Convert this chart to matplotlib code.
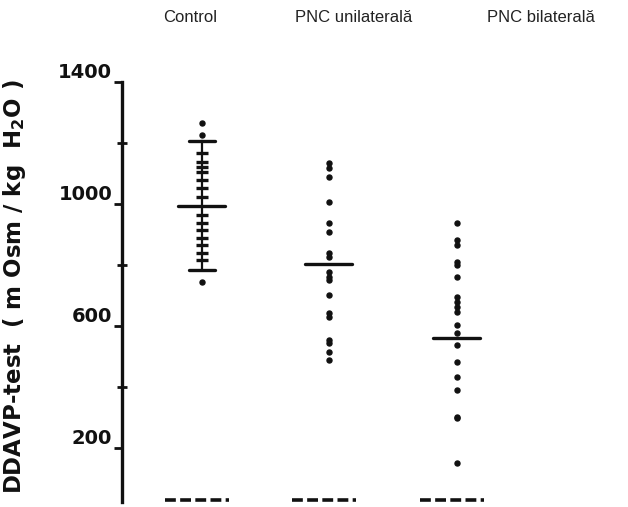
import matplotlib
matplotlib.use("Agg")
import matplotlib.pyplot as plt

groups = ["Control", "PNC unilaterală", "PNC bilaterală"]
control_dash_vals = [1168, 1138, 1122, 1105, 1079, 1053, 1024, 965,
                     938, 915, 889, 866, 840, 817]
control_dot_vals = [1266, 1227, 745]
unilat_vals = [1135, 1119, 1089, 1007, 938, 909, 840, 827, 778, 761, 752,
               702, 643, 630, 555, 545, 516, 490]
bilat_vals = [938, 883, 866, 811, 801, 761, 696, 680, 663, 647, 604, 578,
              539, 483, 434, 391, 303, 300, 152]
means = [995, 804, 562]
control_sd = 212
baseline_value = 30
yticks_major = [200, 600, 1000, 1400]
yticks_minor = [400, 800, 1200]
ylabel = r"DDAVP-test  ( m Osm / kg  H$_\mathbf{2}$O )"

W, H = 628, 507
fig = plt.figure(figsize=(W / 100, H / 100), dpi=100)
ax_left, ax_right = 122, 628
ax_top, ax_bot = 82, 501.7
ax = fig.add_axes([ax_left / W, 1 - ax_bot / H, (ax_right - ax_left) / W, (ax_bot - ax_top) / H])
ax.set_xlim(-0.627, 3.341)
ax.set_ylim(25, 1400)

ink = "#111111"
xs = [0, 1, 2]

# points
ax.plot([xs[0]] * len(control_dash_vals), control_dash_vals, linestyle="none",
        marker="_", markersize=9, markeredgewidth=2.4, color=ink)
ax.plot([xs[0]] * len(control_dot_vals), control_dot_vals, linestyle="none",
        marker="o", markersize=3.6, color=ink)
ax.plot([xs[1]] * len(unilat_vals), unilat_vals, linestyle="none",
        marker="o", markersize=3.6, color=ink)
ax.plot([xs[2]] * len(bilat_vals), bilat_vals, linestyle="none",
        marker="o", markersize=3.6, color=ink)

# control mean +/- SD
ax.plot([xs[0], xs[0]], [means[0] - control_sd, means[0] + control_sd], color=ink, lw=1.6)
for v in (means[0] - control_sd, means[0] + control_sd):
    ax.plot([xs[0] - 0.1, xs[0] + 0.1], [v, v], color=ink, lw=2.4, solid_capstyle="round")

# mean lines
for x, m in zip(xs, means):
    ax.plot([x - 0.19, x + 0.18], [m, m], color=ink, lw=2.4, solid_capstyle="round")

# baseline dashes
for x in xs:
    ax.plot([x - 0.29, x + 0.21], [baseline_value, baseline_value], color=ink, lw=2.6,
            linestyle=(0, (3, 1.2)), clip_on=False)

for s in ["top", "right", "bottom"]:
    ax.spines[s].set_visible(False)
ax.spines["left"].set_linewidth(2.4)
ax.spines["left"].set_color(ink)
ax.set_xticks([])
ax.set_yticks(yticks_major)
ax.set_yticklabels([str(v) for v in yticks_major], fontsize=14, fontweight="bold", color=ink)
for lab in ax.get_yticklabels():
    lab.set_va("bottom")
ax.set_yticks(yticks_minor, minor=True)
ax.tick_params(axis="y", which="major", direction="out", length=6, width=2, pad=1, color=ink)
ax.tick_params(axis="y", which="minor", direction="inout", length=7, width=2, color=ink)

fig.text(15 / W, 1 - 287 / H, ylabel, rotation=90, ha="center", va="center",
         fontsize=16.5, fontweight="bold", color=ink)

header_x = [190, 354, 541]
for hx, g in zip(header_x, groups):
    fig.text(hx / W, 1 - 18 / H, g, ha="center", va="center", fontsize=12,
             family="Liberation Sans", color="#222222")

fig.savefig("out.png", dpi=100, facecolor="white")
